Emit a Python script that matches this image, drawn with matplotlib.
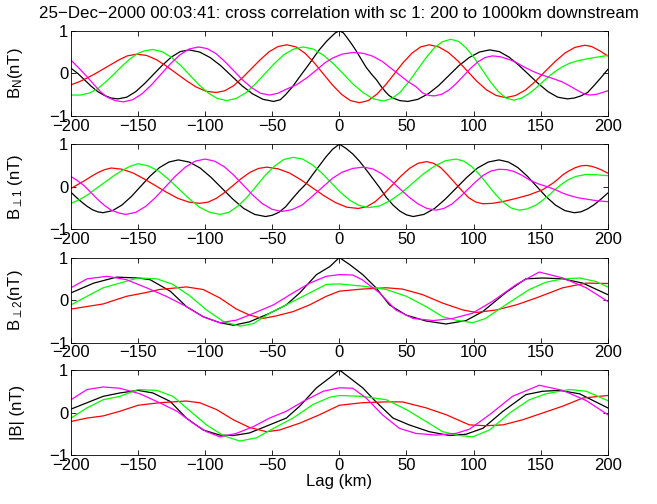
import matplotlib
matplotlib.use("Agg")
import matplotlib.pyplot as plt

plt.rcParams["font.family"] = ["Liberation Sans", "DejaVu Sans"]
plt.rcParams["font.size"] = 12
plt.rcParams["mathtext.fontset"] = "custom"
plt.rcParams["mathtext.rm"] = "Liberation Sans"
plt.rcParams["mathtext.it"] = "Liberation Sans"

title = "25\u2212Dec\u22122000 00:03:41: cross correlation with sc 1: 200 to 1000km downstream"
ylabels = [r"B$_\mathrm{N}$(nT)", r"B$_{\perp 1}$ (nT)", r"B$_{\perp 2}$(nT)", "|B| (nT)"]
xticks = [-200, -150, -100, -50, 0, 50, 100, 150, 200]

# panel 1: B_N
bn_black_lag = [-200, -195, -190, -185, -180, -175, -170, -165, -158.4, -151.75, -145.1, -138.5, -131.9, -125.25, -118.6,
                -112, -104.1, -96.25, -88.4, -80.5, -72.6, -64.75, -56.9, -49, -44, -40, -35, -30, -26, -22, -18, -15,
                -12, -9.6, -6, -3, 0, 3, 5, 8, 10, 12.5, 15, 17.5, 20, 24, 27.6, 31, 34, 37, 40, 45, 51, 58.6, 66.25,
                73.9, 81.5, 89.1, 96.75, 104.4, 112, 119.25, 126.5, 133.75, 141, 148.25, 155.5, 162.75, 170, 175, 180,
                185, 190, 195, 200]
bn_black = [0.12, 0.0, -0.15, -0.3, -0.43, -0.52, -0.58, -0.6, -0.56, -0.43, -0.24, -0.025, 0.19, 0.38, 0.51,
            0.55, 0.5, 0.37, 0.18, -0.055, -0.29, -0.48, -0.61, -0.66, -0.62, -0.5, -0.32, -0.1, 0.07, 0.24, 0.42, 0.55,
            0.66, 0.75, 0.86, 0.95, 1.0, 0.95, 0.87, 0.74, 0.65, 0.53, 0.4, 0.27, 0.14, -0.02, -0.15, -0.3, -0.42, -0.52,
            -0.58, -0.64, -0.66, -0.61, -0.48, -0.29, -0.055, 0.18, 0.37, 0.5, 0.55, 0.51, 0.38, 0.19, -0.025, -0.24,
            -0.43, -0.56, -0.6, -0.58, -0.53, -0.45, -0.28, -0.1, 0.09]
bn_red_lag = [-200, -194, -188, -182, -176, -170, -164, -158, -151, -143.6, -136.25, -128.9, -121.5, -114.1, -106.75,
              -99.4, -92, -85.4, -78.75, -72.1, -65.5, -58.9, -52.25, -45.6, -39, -32.25, -25.5, -18.75, -12, -5.25,
              1.5, 8.25, 15, 21.5, 28, 34.5, 41, 47.5, 54, 60.5, 67, 74.1, 81.25, 88.4, 95.5, 102.6, 109.75, 116.9,
              124, 131.4, 138.75, 146.1, 153.5, 160.9, 168.25, 175.6, 183, 188, 194, 200]
bn_red = [-0.27, -0.2, -0.11, -0.01, 0.1, 0.21, 0.32, 0.41, 0.45, 0.42, 0.32, 0.17, 0.0, -0.17, -0.32,
          -0.42, -0.45, -0.41, -0.29, -0.1, 0.11, 0.32, 0.51, 0.63, 0.67, 0.62, 0.47, 0.25, -0.01, -0.27,
          -0.49, -0.64, -0.69, -0.64, -0.49, -0.27, -0.01, 0.25, 0.47, 0.62, 0.67, 0.62, 0.49, 0.29, 0.05, -0.19,
          -0.39, -0.52, -0.57, -0.52, -0.39, -0.19, 0.05, 0.28, 0.48, 0.61, 0.66, 0.63, 0.53, 0.41]
bn_green_lag = [-200, -193, -186, -180, -174, -168, -162, -156, -150, -145, -139, -132.1, -125.25, -118.4, -111.5,
                -104.6, -97.75, -90.9, -84, -76.9, -69.75, -62.6, -55.5, -48.4, -41.25, -34.1, -27, -19.5, -12, -4.5,
                3, 10.5, 18, 25.5, 33, 39.25, 45.5, 51.75, 58, 64.25, 70.5, 76.75, 83, 88.9, 94.75, 100.6, 106.5,
                112.4, 118.25, 124.1, 130, 136, 141.6, 146, 151.5, 157, 162, 166.5, 172, 177, 183, 190, 200]
bn_green = [-0.51, -0.51, -0.46, -0.36, -0.2, -0.02, 0.17, 0.34, 0.47, 0.53, 0.56, 0.51, 0.38, 0.19, -0.04,
            -0.27, -0.46, -0.59, -0.64, -0.59, -0.46, -0.25, -0.01, 0.23, 0.44, 0.57, 0.62, 0.57, 0.43, 0.23,
            -0.015, -0.26, -0.46, -0.6, -0.65, -0.59, -0.44, -0.2, 0.075, 0.35, 0.59, 0.74, 0.8, 0.75, 0.59, 0.36, 0.085,
            -0.19, -0.42, -0.58, -0.63, -0.58, -0.47, -0.36, -0.2, -0.05, 0.07, 0.16, 0.24, 0.29, 0.33, 0.37, 0.42]
bn_magenta_lag = [-200, -194, -188, -183, -178, -173, -167, -161, -154, -147, -140, -133, -126, -119, -112, -105,
                  -98.4, -91.75, -85.1, -78.5, -71.9, -65.25, -58.6, -52, -46, -40, -32, -24, -17, -11, -5, 2, 10, 18,
                  25, 32, 38, 45, 51, 57, 62, 67, 71, 76.4, 81.75, 87.1, 92.5, 97.9, 103.25, 108.6, 114, 120, 126,
                  131, 137, 144, 151, 158, 166, 172, 178, 183, 187, 192, 196, 200]
bn_magenta = [0.31, 0.12, -0.08, -0.26, -0.43, -0.56, -0.64, -0.67, -0.62, -0.48, -0.27, -0.025, 0.22, 0.43, 0.57, 0.62,
              0.58, 0.46, 0.27, 0.055, -0.16, -0.34, -0.47, -0.51, -0.47, -0.38, -0.27, -0.1, 0.08, 0.24, 0.36, 0.45, 0.49, 0.47,
              0.4, 0.28, 0.13, -0.04, -0.19, -0.31, -0.46, -0.52, -0.53, -0.49, -0.39, -0.24, -0.06, 0.12, 0.27, 0.37, 0.41, 0.39, 0.33,
              0.27, 0.16, 0.05, -0.04, -0.11, -0.2, -0.3, -0.41, -0.49, -0.51, -0.49, -0.45, -0.41]

# panel 2: B_perp1
bp1_black_lag = [-200, -196, -192, -188, -184, -180, -176, -169, -162, -155, -148, -141, -134, -127, -120, -111.9,
                 -103.75, -95.6, -87.5, -79.4, -71.25, -63.1, -55, -50, -45, -40, -35, -30, -25, -20, -15, -10, -5, 0,
                 5, 10, 15, 20, 25, 30, 35, 40, 45, 50, 55, 63, 71, 79, 87, 95, 103, 111, 119, 126, 133, 140, 147, 154,
                 161, 168, 175, 180, 185, 190, 195, 200]
bp1_black = [-0.13, -0.25, -0.36, -0.46, -0.54, -0.59, -0.61, -0.56, -0.43, -0.23, 0.01, 0.25, 0.45, 0.58, 0.63, 0.58,
             0.44, 0.22, -0.035, -0.29, -0.51, -0.65, -0.7, -0.67, -0.6, -0.47, -0.28, -0.1, 0.06, 0.28, 0.49, 0.7, 0.88, 1.0,
             0.9, 0.77, 0.6, 0.4, 0.19, -0.02, -0.25, -0.43, -0.57, -0.66, -0.7, -0.65, -0.51, -0.29, -0.035, 0.22, 0.44, 0.58,
             0.63, 0.58, 0.45, 0.25, 0.01, -0.23, -0.43, -0.56, -0.61, -0.59, -0.52, -0.42, -0.29, -0.15]
bp1_red_lag = [-200, -195, -190, -185, -180, -175, -170, -161.75, -153.5, -145.25, -137, -128.75, -120.5, -112.25, -104,
               -97.75, -91.5, -85.25, -79, -72.75, -66.5, -60.25, -54, -45.5, -37, -28.5, -20, -11.5, -3, 5.5, 14, 20.4,
               26.75, 33.1, 39.5, 45.9, 52.25, 58.6, 65, 70.25, 75.5, 80.75, 86, 91.25, 96.5, 101.75, 107, 114, 121.7,
               131, 141.6, 151.5, 155, 159, 163, 166.5, 171, 176, 180, 184, 188, 191, 195, 200]
bp1_red = [-0.04, 0.05, 0.14, 0.24, 0.33, 0.4, 0.44, 0.41, 0.32, 0.18, 0.025, -0.13, -0.27, -0.36, -0.39,
           -0.36, -0.27, -0.13, 0.035, 0.2, 0.34, 0.43, 0.46, 0.42, 0.32, 0.16, -0.025, -0.21, -0.37, -0.48, -0.51, -0.47,
           -0.35, -0.17, 0.04, 0.25, 0.43, 0.55, 0.59, 0.55, 0.45, 0.28, 0.095, -0.09, -0.26, -0.36, -0.4, -0.39, -0.35,
           -0.28, -0.19, -0.07, 0.0, 0.08, 0.18, 0.28, 0.37, 0.45, 0.49, 0.5, 0.48, 0.45, 0.4, 0.32]
bp1_green_lag = [-200, -194, -188, -182, -175, -168, -162, -156, -150, -142.4, -134.75, -127.1, -119.5, -111.9, -104.25,
                 -96.6, -89, -82.2, -75.4, -68.6, -61.75, -54.9, -48.1, -41.3, -34.5, -27.4, -20.4, -13.3, -6.25, 0.8,
                 7.9, 14.9, 22, 30.1, 38.25, 46.4, 54.5, 62.6, 70.75, 78.9, 87, 92.9, 98.75, 104.6, 110.5, 116.4, 122.25,
                 128.1, 134, 140, 146.6, 151, 156.5, 161, 166.5, 171, 176, 184, 192, 200]
bp1_green = [-0.39, -0.31, -0.2, -0.06, 0.1, 0.26, 0.38, 0.48, 0.54, 0.49, 0.37, 0.17, -0.055, -0.28, -0.48,
             -0.6, -0.65, -0.6, -0.45, -0.24, 0.02, 0.28, 0.49, 0.64, 0.69, 0.65, 0.52, 0.33, 0.1, -0.13,
             -0.32, -0.44, -0.49, -0.45, -0.32, -0.14, 0.08, 0.3, 0.48, 0.61, 0.65, 0.6, 0.47, 0.28, 0.05, -0.18, -0.37,
             -0.5, -0.55, -0.52, -0.43, -0.33, -0.19, -0.06, 0.08, 0.17, 0.24, 0.29, 0.28, 0.26]
bp1_magenta_lag = [-200, -195, -190, -185, -180, -175, -170, -164, -159, -151.6, -144.25, -136.9, -129.5, -122.1,
                   -114.75, -107.4, -100, -92.9, -85.75, -78.6, -71.5, -64.4, -57.25, -50.1, -43, -35.4, -27.75, -20,
                   -12.5, -5, 2, 10, 18, 24.75, 31.5, 38.25, 45, 51.75, 58.5, 65.25, 72, 77.9, 83.75, 89.6, 95.5, 101.4,
                   107.25, 113.1, 119, 125, 130, 136, 141.6, 148, 155, 161, 166.5, 172, 178, 184, 192, 200]
bp1_magenta = [0.24, 0.14, 0.02, -0.14, -0.3, -0.44, -0.55, -0.62, -0.65, -0.6, -0.46, -0.25, 0.0, 0.25,
               0.46, 0.6, 0.65, 0.6, 0.47, 0.27, 0.035, -0.2, -0.4, -0.53, -0.58, -0.54, -0.43, -0.22,
               -0.01, 0.2, 0.34, 0.43, 0.46, 0.42, 0.31, 0.15, -0.045, -0.24, -0.4, -0.51, -0.55, -0.51, -0.41, -0.25, -0.07, 0.11,
               0.27, 0.37, 0.41, 0.4, 0.36, 0.27, 0.16, 0.07, 0.0, -0.07, -0.15, -0.21, -0.26, -0.29, -0.33, -0.35]

# panel 3: B_perp2
bp2_black_lag = [-200, -183, -166, -150, -141, -126, -114, -101.5, -89, -79, -67, -52, -39.5, -29.5, -17, -7, 0,
                 7.5, 17.4, 27.3, 37.3, 49.7, 64.6, 79.5, 94.4, 106.8, 124.2, 139, 151.6, 166.5, 181.4, 200]
bp2_black = [0.17, 0.4, 0.54, 0.52, 0.48, 0.21, -0.15, -0.39, -0.53, -0.59, -0.51, -0.31, -0.11, 0.17, 0.6, 0.79, 1.0,
             0.84, 0.6, 0.29, -0.11, -0.35, -0.49, -0.56, -0.48, -0.27, 0.18, 0.5, 0.52, 0.5, 0.4, 0.13]
bp2_red_lag = [-200, -188, -176, -158.6, -143.7, -134, -114, -101.5, -89, -76.7, -67, -57, -47, -34.5, -22, -9.7, 0,
               17, 35, 47, 62, 77, 92, 102, 117, 132, 146.6, 166.5, 184, 200]
bp2_red = [-0.21, -0.15, -0.09, 0.09, 0.18, 0.25, 0.31, 0.25, 0.05, -0.21, -0.35, -0.43, -0.37, -0.27, -0.11, 0.09, 0.21,
           0.26, 0.29, 0.26, 0.13, -0.07, -0.23, -0.29, -0.23, -0.11, 0.05, 0.29, 0.4, 0.39]
bp2_green_lag = [-200, -188, -176, -163.5, -150, -136, -124, -111, -99, -86, -74, -64, -52, -37, -22, -9.7, 0,
                 17, 35, 50, 64.6, 77, 87, 99.4, 109, 124, 141.6, 154, 166.5, 179, 191, 200]
bp2_green = [-0.11, 0.09, 0.29, 0.4, 0.52, 0.5, 0.37, 0.09, -0.23, -0.51, -0.61, -0.55, -0.31, -0.07, 0.17, 0.37, 0.38,
             0.33, 0.25, 0.09, -0.15, -0.39, -0.47, -0.53, -0.43, -0.11, 0.25, 0.42, 0.5, 0.52, 0.44, 0.31]
bp2_magenta_lag = [-200, -188, -173, -158.6, -143.7, -129, -114, -101.5, -89, -76.7, -64, -49, -34.5, -22, -9.7, 0,
                   10, 17, 30, 42, 55, 70, 84.5, 99, 114, 132, 149, 166.5, 184, 200]
bp2_magenta = [0.29, 0.5, 0.56, 0.48, 0.29, 0.09, -0.15, -0.39, -0.53, -0.47, -0.31, -0.11, 0.17, 0.4, 0.56, 0.6,
               0.59, 0.48, 0.17, -0.23, -0.43, -0.48, -0.43, -0.31, -0.03, 0.37, 0.66, 0.52, 0.29, -0.03]

# panel 4: |B|
bt_black_lag = [-200, -188, -176, -163.5, -150, -139, -126, -114, -101.5, -89, -79, -67, -52, -39.5, -29.5, -17, -7, 0,
                7.5, 17.4, 27, 40, 52, 67, 82, 94.4, 107, 122, 139, 151.6, 164, 179, 200]
bt_black = [0.08, 0.23, 0.38, 0.46, 0.52, 0.46, 0.26, -0.13, -0.41, -0.53, -0.54, -0.48, -0.29, -0.13, 0.15, 0.58, 0.82, 1.0,
            0.82, 0.58, 0.26, -0.13, -0.29, -0.45, -0.54, -0.51, -0.37, 0.03, 0.42, 0.5, 0.52, 0.44, 0.11]
bt_red_lag = [-200, -188, -176, -163.5, -150, -134, -114, -104, -91.5, -79, -67, -54.3, -44.5, -29.5, -14.6, 0,
              17, 35, 47, 64.6, 79.5, 96.9, 109, 122, 136.6, 151.6, 166.5, 181.4, 200]
bt_red = [-0.21, -0.13, -0.08, 0.03, 0.17, 0.23, 0.27, 0.23, 0.07, -0.17, -0.35, -0.45, -0.41, -0.25, -0.05, 0.17,
          0.23, 0.25, 0.25, 0.11, -0.05, -0.29, -0.31, -0.29, -0.17, -0.01, 0.15, 0.34, 0.4]
bt_green_lag = [-200, -188, -176, -163.5, -150, -136, -124, -111, -99, -86, -74, -61.5, -49, -34.5, -19.6, -7, 0,
                17, 35, 50, 64.6, 77, 89, 99.4, 112, 127, 141.6, 154, 171.4, 184, 200]
bt_green = [-0.13, 0.11, 0.3, 0.38, 0.54, 0.52, 0.38, 0.03, -0.29, -0.55, -0.67, -0.59, -0.37, -0.13, 0.19, 0.36, 0.4,
            0.38, 0.3, 0.07, -0.21, -0.45, -0.54, -0.57, -0.41, -0.01, 0.3, 0.44, 0.54, 0.5, 0.28]
bt_magenta_lag = [-200, -188, -176, -163.5, -148.6, -134, -121, -109, -99, -89, -76.7, -64, -52, -39.5, -27, -12, 0,
                  10, 20, 32, 44.7, 57, 72, 87, 97, 112, 129, 149, 166.5, 184, 200]
bt_magenta = [0.3, 0.54, 0.6, 0.57, 0.44, 0.23, 0.03, -0.25, -0.45, -0.57, -0.49, -0.33, -0.13, 0.03, 0.26, 0.5, 0.58,
              0.57, 0.34, -0.05, -0.37, -0.49, -0.53, -0.49, -0.39, -0.05, 0.38, 0.64, 0.52, 0.28, -0.05]

panels = [
    [(bn_black_lag, bn_black), (bn_red_lag, bn_red), (bn_green_lag, bn_green), (bn_magenta_lag, bn_magenta)],
    [(bp1_black_lag, bp1_black), (bp1_red_lag, bp1_red), (bp1_green_lag, bp1_green), (bp1_magenta_lag, bp1_magenta)],
    [(bp2_black_lag, bp2_black), (bp2_red_lag, bp2_red), (bp2_green_lag, bp2_green), (bp2_magenta_lag, bp2_magenta)],
    [(bt_black_lag, bt_black), (bt_red_lag, bt_red), (bt_green_lag, bt_green), (bt_magenta_lag, bt_magenta)],
]
colors = ["black", "#ff0000", "#00ff00", "#ff00ff"]

fig = plt.figure(figsize=(6.57, 5.04), dpi=100)
left, width, height = 0.108, 0.817, 0.169
bottoms = [0.770, 0.545, 0.320, 0.097]

for i, (series, bottom) in enumerate(zip(panels, bottoms)):
    ax = fig.add_axes([left, bottom, width, height])
    for (lag, vals), color in zip(series, colors):
        ax.plot(lag, vals, color=color, linewidth=0.9)
    ax.set_xlim(-200, 200)
    ax.set_ylim(-1, 1)
    ax.set_xticks(xticks)
    ax.set_yticks([-1, 0, 1])
    ax.tick_params(direction="in", top=True, right=True, length=3.5, width=0.6, pad=2)
    for spine in ax.spines.values():
        spine.set_linewidth(0.6)
    ax.set_ylabel(ylabels[i])
    ax.yaxis.set_label_coords(-0.085, 0.5)
    if i == 0:
        ax.set_title(title, fontsize=12.2, pad=9)
    if i == 3:
        ax.set_xlabel("Lag (km)", labelpad=1)

fig.savefig("out.png", dpi=100)
